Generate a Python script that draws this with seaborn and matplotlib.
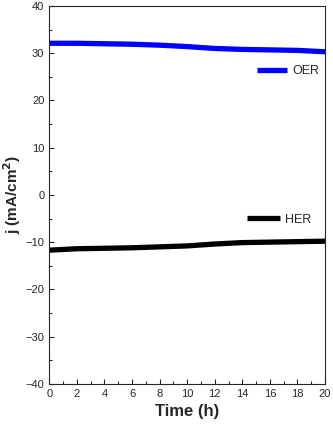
import numpy as np
import pandas as pd
import seaborn as sns
import matplotlib.pyplot as plt
from matplotlib.ticker import MultipleLocator

time_h = [0, 2, 4, 6, 8, 10, 12, 14, 16, 18, 20]
oer_j = [32.1, 32.1, 32.0, 31.9, 31.7, 31.4, 31.0, 30.8, 30.7, 30.6, 30.3]
her_j = [-11.7, -11.4, -11.3, -11.2, -11.0, -10.8, -10.4, -10.1, -10.0, -9.9, -9.8]

df = pd.DataFrame({"Time": time_h * 2,
                   "j": oer_j + her_j,
                   "Reaction": ["OER"] * len(time_h) + ["HER"] * len(time_h)})

sns.set_style("ticks")
plt.rcParams['font.family'] = ['Liberation Sans', 'DejaVu Sans']

fig, ax = plt.subplots(figsize=(3.33, 4.26), dpi=100)
sns.lineplot(data=df, x="Time", y="j", hue="Reaction",
             palette={"OER": "#0000ff", "HER": "#000000"},
             linewidth=3.8, ax=ax, legend=False)
for ln in ax.get_lines():
    ln.set_solid_capstyle("butt")

ax.set_xlim(0, 20)
ax.set_ylim(-40, 40)
ax.xaxis.set_major_locator(MultipleLocator(2))
ax.xaxis.set_minor_locator(MultipleLocator(1))
ax.yaxis.set_major_locator(MultipleLocator(10))
ax.yaxis.set_minor_locator(MultipleLocator(5))
ax.tick_params(which="both", direction="in", labelsize=8, width=0.8)
ax.tick_params(which="major", length=3.5)
ax.tick_params(which="minor", length=2)
ax.tick_params(top=False, right=False, which="both")
for s in ax.spines.values():
    s.set_linewidth(0.8)

ax.set_xlabel("Time (h)", fontsize=12, fontweight="bold")
ax.set_ylabel("j (mA/cm$^\\mathbf{2}$)", fontsize=11, fontweight="bold", labelpad=2)

# separate legend entries next to each curve
lines = ax.get_lines()
leg1 = ax.legend([lines[0]], ["OER"], loc="center right", bbox_to_anchor=(1.02, 0.828),
                 frameon=False, fontsize=9, handlelength=2.4, handletextpad=0.4)
ax.add_artist(leg1)
ax.legend([lines[1]], ["HER"], loc="center right", bbox_to_anchor=(0.99, 0.434),
          frameon=False, fontsize=9, handlelength=2.6, handletextpad=0.4)

plt.subplots_adjust(left=0.148, right=0.976, top=0.986, bottom=0.099)
fig.savefig("out.png", dpi=100)
